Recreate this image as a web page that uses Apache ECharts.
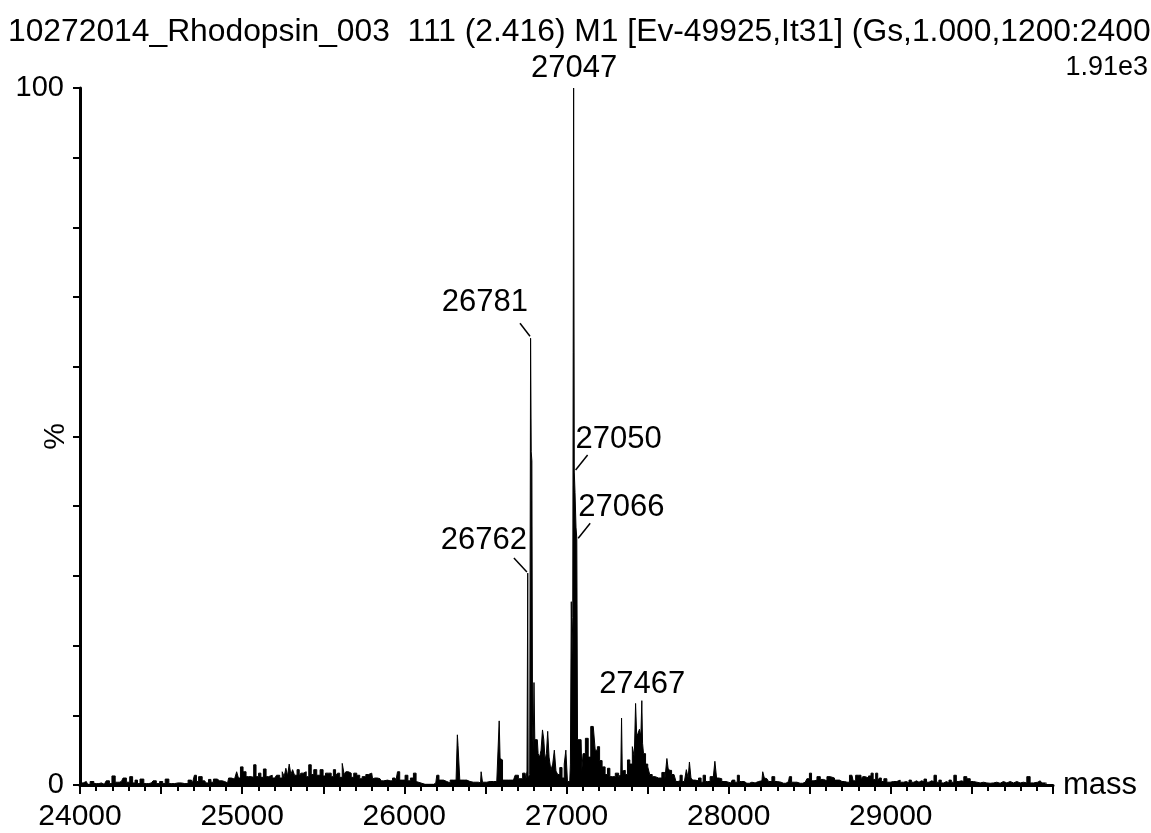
<!DOCTYPE html>
<html>
<head>
<meta charset="utf-8">
<script src="https://cdn.jsdelivr.net/npm/echarts@6/dist/echarts.min.js"></script>
<style>
html, body { margin: 0; padding: 0; background: #fff; }
#main { width: 1151px; height: 833px; }
</style>
</head>
<body>
<div id="main"></div>
<script>
// 谱图数据: [mass, %]
var noiseLow = [
	[24000,0.3],[24039,0.5],[24055,0.1],[24070,0.5],[24101,0.2],[24132,0.3],[24150,0.1],[24173,0.6],[24190,0.2],[24204,1.3],
	[24230,0.4],[24255,0.5],[24276,1.0],[24296,0.4],[24317,1.2],[24332,0.3],[24347,0.7],[24362,0.2],[24378,0.85],[24409,0.2],
	[24440,0.3],[24461,0.6],[24480,0.2],[24502,0.5],[24518,0.2],[24533,0.85],[24563,0.2],[24604,0.3],[24646,0.2],[24687,0.7],
	[24700,0.3],[24711,1.4],[24725,0.5],[24738,1.2],[24769,0.6],[24785,0.3],[24800,0.8],[24815,0.4],[24831,0.85],[24861,0.6],
	[24892,0.5],[24910,0.3],[24923,1.0],[24944,0.85],[24962,0.8],[24970,1.9],[24984,1.0],[24995,2.6],[25016,1.9],[25032,1.2],
	[25047,1.2],[25065,1.1],[25077,2.9],[25094,1.2],[25108,1.7],[25123,1.1],[25139,2.3],[25156,1.2],[25170,1.4],[25201,1.0],
	[25223,1.4],[25240,1.0],[25254,1.9],[25264,1.2],[25275,2.4],[25285,1.3],[25295,3.0],[25306,1.5],[25316,2.2],[25330,1.4],
	[25347,2.2],[25357,1.3],[25367,1.7],[25388,1.9],[25402,1.2],[25419,2.9],[25433,1.5],[25450,2.2],[25470,1.4],[25491,2.2],
	[25507,1.3],[25521,1.7],[25542,1.7],[25556,1.2],[25569,2.2],[25583,1.3],[25593,1.7],[25610,1.1],[25624,3.1],[25634,1.5],
	[25645,1.9],[25665,1.7],[25680,1.1],[25696,1.7],[25717,1.4],[25733,0.9],[25747,1.2],[25778,1.5],[25799,1.7],[25809,0.9],
	[25819,1.0],[25850,0.9],[25865,0.6],[25881,0.7],[25912,0.6],[25943,1.0],[25953,0.6],[25963,1.9],[25980,0.7],[25994,0.7],
	[26015,1.4],[26029,0.6],[26046,1.0],[26066,1.7],[26079,0.5],[26087,0.25],[26128,0.1],[26169,0.1],[26194,0.3],[26206,1.4],
	[26221,0.7],[26231,0.7],[26252,0.5],[26272,0.3],[26293,0.7],[26313,0.7]
];
var peakZone = [
	[26325,0.8],[26329,7.2],[26333,5.7],[26339,5.6],[26345,0.7],[26354,0.7],[26385,0.7],[26405,0.5],[26426,0.4],[26457,0.4],
	[26470,0.3],[26477,1.9],[26487,0.4],[26529,0.5],[26570,0.5],[26582,0.5],[26588,9.2],[26593,3.8],[26600,3.6],[26611,0.7],
	[26642,0.7],[26673,0.7],[26693,1.4],[26714,0.9],[26745,1.7],[26753,0.7],[26760,2.0],[26762,30.4],[26765,1.0],[26770,0.8],
	[26776,1.5],[26781,64.1],[26784,47.8],[26789,46.5],[26792,8.9],[26797,5.0],[26802,14.7],[26807,6.5],[26820,6.5],[26830,4.5],
	[26838,4.0],[26848,5.0],[26856,7.9],[26864,6.5],[26872,3.6],[26880,4.5],[26888,7.7],[26897,4.0],[26910,2.1],[26920,3.0],
	[26930,5.0],[26940,2.0],[26952,1.5],[26965,2.5],[26980,1.0],[26992,3.0],[27000,5.0],[27012,0.5],[27020,0.5],[27028,3.0],
	[27031,26.3],[27036,18.0],[27041,24.0],[27047,100],[27049,44.9],[27056,42.0],[27061,37.0],[27066,35.4],[27070,6.5],[27090,6.5],
	[27098,2.0],[27106,4.5],[27127,6.7],[27141,4.0],[27158,8.4],[27172,8.2],[27182,5.0],[27199,5.5],[27209,3.5],[27230,2.6],
	[27246,1.5],[27260,2.4],[27275,1.2],[27291,1.2],[27311,1.7],[27332,1.2],[27337,1.5],[27342,9.6],[27346,2.0],[27356,2.1],
	[27369,1.5],[27383,3.6],[27398,3.0],[27414,5.5],[27422,4.0],[27430,11.7],[27436,7.0],[27445,7.4],[27455,8.0],[27462,7.0],
	[27467,12.1],[27471,6.0],[27479,4.5],[27496,3.0],[27506,2.6],[27520,1.5],[27537,1.2],[27557,1.0],[27578,1.0],[27598,1.8],
	[27615,0.8],[27623,3.8],[27630,2.4],[27640,2.1],[27656,1.5],[27670,1.7],[27680,0.5],[27695,0.6]
];
var noiseHigh = [
	[27705,1.4],[27722,0.5],[27732,0.7],[27746,2.2],[27754,1.0],[27762,3.3],[27773,1.0],[27783,0.7],[27804,0.6],[27824,1.0],
	[27836,0.4],[27849,1.4],[27865,0.5],[27875,0.5],[27896,1.2],[27910,0.6],[27920,3.4],[27931,1.0],[27947,0.9],[27968,0.5],
	[27999,0.4],[28013,0.3],[28030,0.7],[28046,0.4],[28061,1.4],[28071,0.5],[28081,0.5],[28112,0.25],[28143,0.4],[28163,0.3],
	[28184,0.5],[28205,0.6],[28215,1.9],[28225,1.0],[28236,0.9],[28256,0.5],[28277,1.2],[28291,0.5],[28308,0.4],[28338,0.25],
	[28369,0.5],[28380,1.2],[28396,0.4],[28421,0.4],[28441,0.25],[28472,0.4],[28493,0.9],[28503,1.7],[28519,0.6],[28534,0.7],
	[28555,1.2],[28575,0.8],[28596,0.6],[28616,1.2],[28637,1.0],[28668,0.7],[28699,0.5],[28730,0.4],[28760,1.4],[28775,0.6],
	[28791,1.4],[28811,1.4],[28821,0.9],[28832,1.2],[28852,1.0],[28873,1.3],[28883,1.7],[28899,0.8],[28914,1.7],[28924,0.6],
	[28934,1.0],[28949,0.5],[28965,0.9],[28986,0.4],[29006,0.5],[29027,0.5],[29047,0.7],[29068,0.4],[29088,0.5],[29105,0.3],
	[29119,0.7],[29134,0.4],[29150,0.6],[29166,0.4],[29181,0.6],[29197,0.5],[29212,0.85],[29228,0.4],[29243,0.6],[29259,0.5],
	[29273,1.4],[29289,0.4],[29304,0.7],[29318,0.3],[29335,0.5],[29351,0.3],[29366,0.7],[29380,0.4],[29397,1.4],[29411,0.5],
	[29428,0.6],[29442,0.5],[29458,1.2],[29479,0.9],[29500,0.5],[29520,0.4],[29541,0.3],[29561,0.4],[29582,0.3],[29602,0.25],
	[29623,0.3],[29643,0.4],[29664,0.25],[29684,0.5],[29705,0.3],[29726,0.5],[29746,0.3],[29767,0.5],[29787,0.3],[29808,0.4],
	[29828,0.3],[29849,1.2],[29869,0.3],[29890,0.4],[29921,0.6],[29941,0.3],[29962,0.25]
];

// 标注的峰
var peakMasses = [27047, 26781, 27050, 27066, 26762, 27467];
var peakHeights = [100, 64.1, 44.9, 35.4, 30.4, 12.1];

var titleText = '10272014_Rhodopsin_003  111 (2.416) M1 [Ev-49925,It31] (Gs,1.000,1200:2400';
var maxIntensity = '1.91e3';

var font = "'Liberation Sans', Arial, sans-serif";

// 标签相对峰顶的摆放 (px)
var labelPlace = [
	{ tx: 0, ty: -20, align: 'center', lead: null },
	{ tx: -3, ty: -36, align: 'right', lead: [-1, -2, -11, -15] },
	{ tx: 1, ty: -33, align: 'left', lead: [1, -2, 13, -17] },
	{ tx: 1, ty: -31, align: 'left', lead: [1, 0, 13, -15] },
	{ tx: -1, ty: -33, align: 'right', lead: [-1, -1, -14, -15] },
	{ tx: 0, ty: -16, align: 'center', lead: null }
];

var spectrum = noiseLow.concat(peakZone, noiseHigh);
var peakData = [];
for (var i = 0; i < peakMasses.length; i++) {
	peakData.push([peakMasses[i], peakHeights[i]]);
}

var chart = echarts.init(document.getElementById('main'), null, { renderer: 'canvas' });
var option = {
	animation: false,
	backgroundColor: '#fff',
	title: {
		text: titleText,
		left: 3,
		top: 11,
		textStyle: { fontFamily: font, fontSize: 31.8, fontWeight: 'normal', color: '#000' }
	},
	graphic: [{
		type: 'text',
		right: 3,
		top: 54,
		style: { text: maxIntensity, font: '27px ' + font, fill: '#000' }
	}],
	grid: { left: 80, right: 98, top: 88, bottom: 48, outerBoundsMode: 'none' },
	xAxis: {
		type: 'value',
		min: 24000,
		max: 30000,
		interval: 500,
		name: 'mass',
		nameLocation: 'end',
		nameGap: 10,
		nameMoveOverlap: false,
		nameTextStyle: { fontFamily: font, fontSize: 31, color: '#000', verticalAlign: 'middle', padding: [4, 0, 0, 0] },
		axisLine: { onZero: false, lineStyle: { color: '#000', width: 3 } },
		axisTick: { show: true, inside: false, length: 9, lineStyle: { color: '#000', width: 2 } },
		minorTick: { show: true, splitNumber: 5, length: 6, lineStyle: { color: '#000', width: 2 } },
		axisLabel: {
			margin: 17,
			fontFamily: font,
			fontSize: 30,
			color: '#000',
			formatter: function(v) {
				return (v % 1000 === 0 && v < 30000) ? String(v) : '';
			}
		},
		splitLine: { show: false }
	},
	yAxis: {
		type: 'value',
		min: 0,
		max: 100,
		interval: 10,
		name: '%',
		nameLocation: 'middle',
		nameRotate: 90,
		nameGap: 9,
		nameMoveOverlap: false,
		nameTextStyle: { fontFamily: font, fontSize: 30, color: '#000' },
		axisLine: { show: true, lineStyle: { color: '#000', width: 3 } },
		axisTick: { show: true, inside: false, length: 7, lineStyle: { color: '#000', width: 2 } },
		axisLabel: {
			margin: 16,
			fontFamily: font,
			fontSize: 29,
			color: '#000',
			formatter: function(v) {
				return (v === 0 || v === 100) ? String(v) : '';
			}
		},
		splitLine: { show: false }
	},
	series: [{
		name: 'spectrum',
		type: 'line',
		data: spectrum,
		step: 'middle',
		showSymbol: false,
		symbol: 'none',
		lineStyle: { color: '#000', width: 1 },
		areaStyle: { color: '#000', opacity: 1 },
		z: 2
	}, {
		name: 'peaks',
		type: 'custom',
		data: peakData,
		z: 5,
		renderItem: function(params, api) {
			var p = api.coord([api.value(0), api.value(1)]);
			var place = labelPlace[params.dataIndex];
			var children = [];
			if (place.lead) {
				children.push({
					type: 'line',
					shape: {
						x1: p[0] + place.lead[0], y1: p[1] + place.lead[1],
						x2: p[0] + place.lead[2], y2: p[1] + place.lead[3]
					},
					style: { stroke: '#000', lineWidth: 1.5 }
				});
			}
			children.push({
				type: 'text',
				x: p[0] + place.tx,
				y: p[1] + place.ty,
				style: {
					text: String(peakMasses[params.dataIndex]),
					font: '31px ' + font,
					fill: '#000',
					align: place.align,
					verticalAlign: 'middle'
				}
			});
			return { type: 'group', children: children };
		}
	}]
};
chart.setOption(option);
</script>
</body>
</html>
